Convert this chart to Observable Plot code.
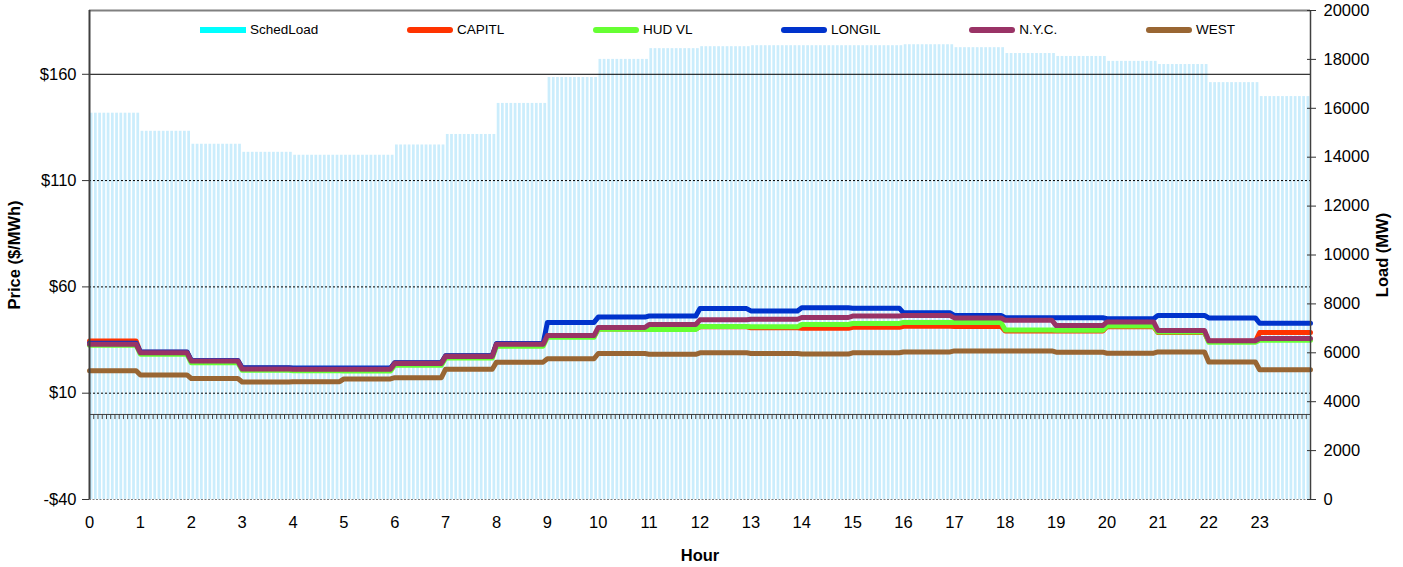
<!DOCTYPE html>
<html><head><meta charset="utf-8">
<script src="https://cdn.jsdelivr.net/npm/d3@7"></script>
<script src="https://cdn.jsdelivr.net/npm/@observablehq/plot@0.6"></script>
<style>
body{margin:0;background:#fff;font-family:"Liberation Sans",Arial,sans-serif;}
#wrap{position:relative;width:1403px;height:567px;}
#legend{position:absolute;top:22px;left:200px;width:1035px;display:flex;justify-content:space-between;align-items:center;font-size:13.5px;line-height:16px;color:#000;z-index:2;}
.item{display:flex;align-items:center;}
.sw{width:46px;height:6px;border-radius:3px;margin-right:4px;}
g[aria-label="y-axis label"] text, g[aria-label="x-axis label"] text{font-weight:bold;}
</style></head><body><div id="wrap"><div id="legend"></div></div>
<script>
// ---- data ----
const hours = d3.range(24);
const hourLabels = hours.map(String);
const schedLoad = [15800, 15060, 14530, 14200, 14080, 14080, 14500, 14930, 16200, 17260, 18000, 18440,
                   18520, 18560, 18560, 18560, 18600, 18480, 18240, 18120, 17920, 17790, 17050, 16480];
const capitl = [34.5, 29.3, 25.3, 21.8, 21.6, 21.6, 24.3, 27.6, 33.3, 36.8, 40.2, 40.2,
                41.2, 40.8, 40.5, 41.0, 41.5, 41.4, 39.2, 39.2, 41.3, 38.5, 34.4, 38.5];
const hudvl = [32.6, 28.3, 24.3, 20.8, 20.6, 20.4, 23.2, 26.5, 32.1, 36.3, 40.1, 40.0,
               41.4, 41.2, 42.3, 42.8, 43.3, 43.2, 39.7, 39.6, 41.6, 38.8, 34.0, 34.9];
const longil = [33.5, 29.4, 25.4, 22.0, 21.8, 21.8, 24.3, 27.6, 33.4, 43.3, 45.8, 46.3,
                49.8, 48.7, 50.2, 50.0, 47.8, 46.6, 45.5, 45.5, 45.0, 46.6, 45.4, 42.9];
const nyc = [33.0, 29.0, 25.1, 21.4, 21.3, 21.3, 24.0, 27.3, 33.0, 37.1, 40.9, 42.3,
             44.5, 44.8, 45.6, 46.3, 46.5, 45.4, 44.3, 41.8, 43.5, 39.5, 34.7, 35.7];
const west = [20.6, 18.6, 16.9, 15.3, 15.4, 16.7, 17.3, 21.3, 24.6, 26.2, 28.7, 28.3,
              29.0, 28.7, 28.4, 29.0, 29.4, 29.9, 29.9, 29.3, 28.8, 29.4, 24.7, 21.0];
const seriesNames = ["CAPITL", "HUD VL", "LONGIL", "N.Y.C.", "WEST"];
const seriesValues = [capitl, hudvl, longil, nyc, west];
const seriesColors = ["#ff3300", "#66ff33", "#0033cc", "#993366", "#996633"];
const loadName = "SchedLoad";
const loadColor = "#00ffff";
const priceTicks = [-40, 10, 60, 110, 160];
const loadTicks = d3.range(0, 20001, 2000);
const priceDomain = [-40, 190];
const loadDomain = [0, 20000];
const perHour = 12; // 5-minute intervals

// ---- derived tables ----
const loadToPrice = d3.scaleLinear(loadDomain, priceDomain);
const nInt = hours.length * perHour;
const bars = d3.range(nInt).map(i => {
  const h = Math.floor(i / perHour);
  return {t0: i / perHour, t1: (i + 1) / perHour, p: loadToPrice(schedLoad[h])};
});
const lineRows = [];
seriesNames.forEach((name, s) => {
  for (let i = 0; i <= nInt; i++) {
    const h = Math.min(Math.floor(i / perHour), hours.length - 1);
    lineRows.push({series: name, t: i / perHour, price: seriesValues[s][h]});
  }
});
const catTicks = d3.range(nInt + 1).map(i => i / perHour);

const fmtPrice = d => (d < 0 ? "-$" : "$") + Math.abs(d);

const chart = Plot.plot({
  width: 1403, height: 567,
  marginTop: 10, marginBottom: 68, marginLeft: 89, marginRight: 93,
  style: {fontFamily: "Liberation Sans, Arial, sans-serif", fontSize: "16.5px", color: "#000", background: "#fff"},
  x: {domain: [0, hours.length]},
  y: {domain: priceDomain},
  color: {domain: seriesNames, range: seriesColors},
  marks: [
    Plot.rectY(bars, {x1: "t0", x2: "t1", y1: loadToPrice(0), y2: "p", fill: "#cbedfc", insetLeft: 0.75, insetRight: 0.75}),
    Plot.ruleY([priceTicks[4]], {stroke: "#000", strokeWidth: 1}),
    Plot.ruleY(priceTicks.slice(1, 4), {stroke: "#000", strokeDasharray: "2,2"}),
    Plot.ruleY([priceDomain[1]], {stroke: "#808080", strokeWidth: 2}),
    Plot.ruleY([priceDomain[0]], {stroke: "#808080", strokeDasharray: "2,1.5"}),
    Plot.ruleY([0], {stroke: "#404040"}),
    Plot.ruleX(catTicks, {y1: 0, y2: -2.4, stroke: "#404040"}),
    Plot.line(lineRows, {x: "t", y: "price", z: "series", stroke: "series", strokeWidth: 5, strokeLinejoin: "round"}),
    Plot.ruleX([0], {stroke: "#404040", strokeWidth: 2}),
    Plot.ruleX([hours.length], {stroke: "#404040", strokeWidth: 1.5}),
    Plot.axisX(hours, {anchor: "bottom", tickSize: 0, tickPadding: 17, tickFormat: d => hourLabels[d],
      label: "Hour", labelAnchor: "center", labelOffset: 61, labelArrow: "none"}),
    Plot.axisY(priceTicks, {anchor: "left", tickSize: 7, tickPadding: 6, tickFormat: fmtPrice, stroke: "#333",
      label: "Price ($/MWh)", labelAnchor: "center", labelOffset: 81, labelArrow: "none"}),
    Plot.axisY(loadTicks.map(loadToPrice), {anchor: "right", tickSize: 9, dx: -4, tickFormat: () => "", label: null, stroke: "#333"}),
    Plot.axisY(loadTicks.map(loadToPrice), {anchor: "right", tickSize: 0, tickPadding: 13,
      tickFormat: p => String(Math.round(loadToPrice.invert(p))),
      label: "Load (MW)", labelAnchor: "center", labelOffset: 77, labelArrow: "none"})
  ]
});
document.getElementById("wrap").appendChild(chart);

// legend
const legend = document.getElementById("legend");
[[loadName, loadColor], ...seriesNames.map((n, i) => [n, seriesColors[i]])].forEach(([n, c], i) => {
  const it = document.createElement("div");
  it.className = "item";
  const sw = document.createElement("span");
  sw.className = "sw";
  sw.style.background = c;
  if (i === 0) sw.style.borderRadius = "0";
  const tx = document.createElement("span");
  tx.textContent = n;
  it.appendChild(sw); it.appendChild(tx);
  legend.appendChild(it);
});
</script></body></html>
